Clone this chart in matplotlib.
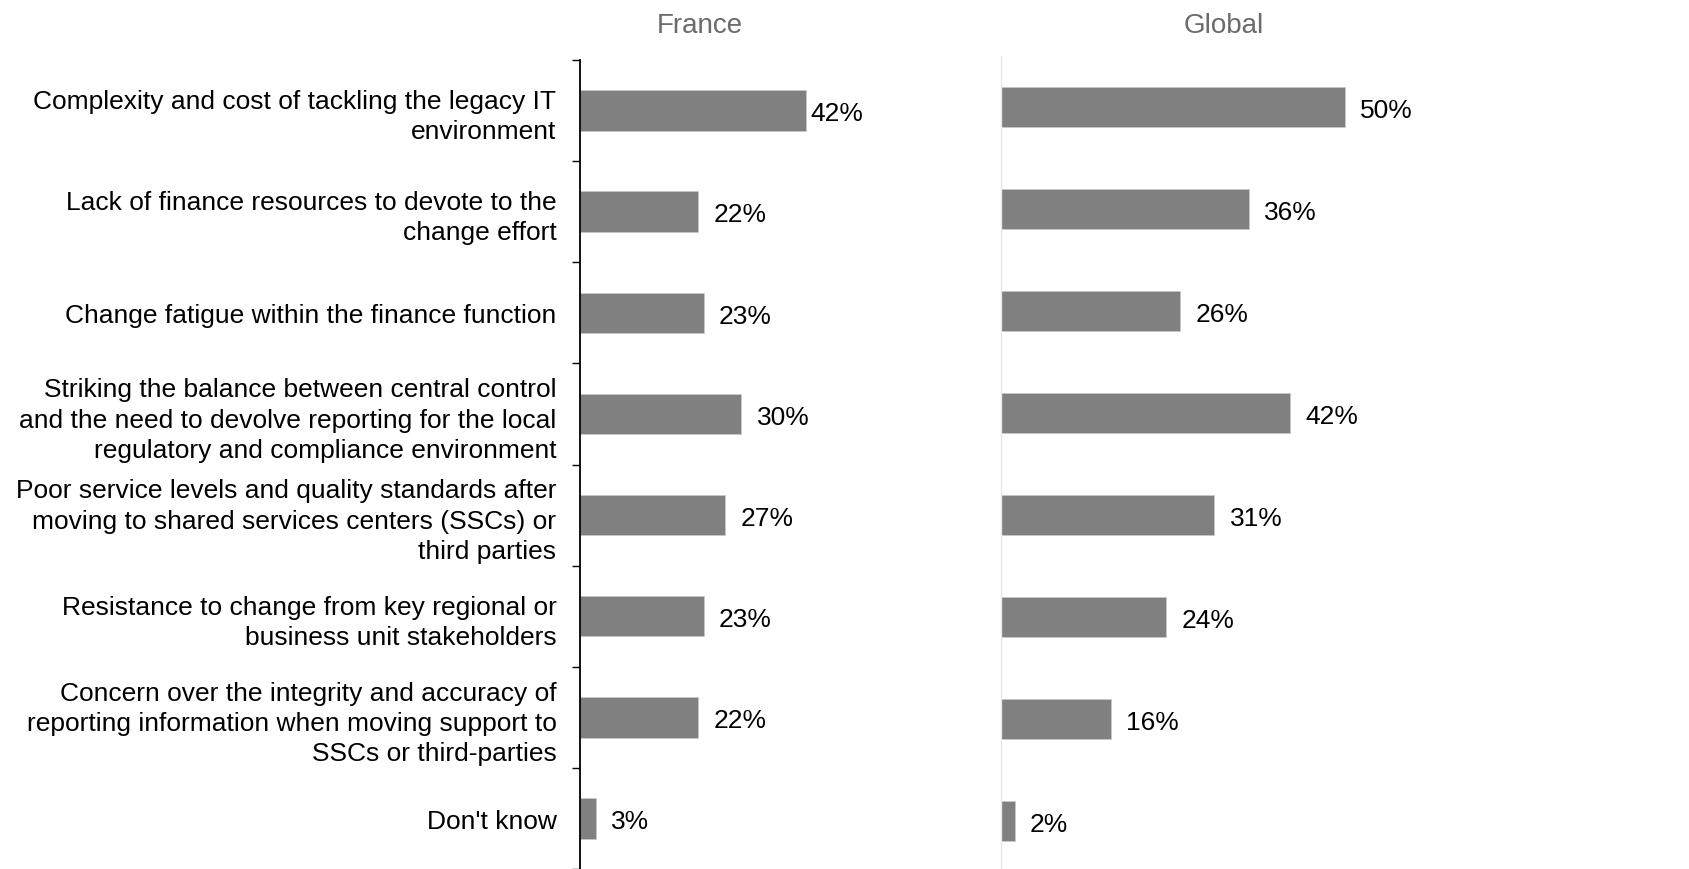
import numpy as np
import matplotlib
matplotlib.use('Agg')
import matplotlib.pyplot as plt

plt.rcParams['font.family'] = ['Liberation Sans', 'DejaVu Sans']

categories = [
    "Complexity and cost of tackling the legacy IT\nenvironment",
    "Lack of finance resources to devote to the\nchange effort",
    "Change fatigue within the finance function",
    "Striking the balance between central control\nand the need to devolve reporting for the local\nregulatory and compliance environment",
    "Poor service levels and quality standards after\nmoving to shared services centers (SSCs) or\nthird parties",
    "Resistance to change from key regional or\nbusiness unit stakeholders",
    "Concern over the integrity and accuracy of\nreporting information when moving support to\nSSCs or third-parties",
    "Don't know",
]
france = [42, 22, 23, 30, 27, 23, 22, 3]
global_ = [50, 36, 26, 42, 31, 24, 16, 2]

W, H = 1690, 870
fig = plt.figure(figsize=(W / 100, H / 100), dpi=100)


def px_axes(left, top, width, height):
    return fig.add_axes([left / W, (H - top - height) / H, width / W, height / H])


bar_color = '#808080'
y = np.arange(len(categories))

ax_fr = px_axes(580, 61, 380, 809)
ax_gl = px_axes(1001, 57, 600, 816)

# the longest France bar gets its label tucked in closer
label_pad = {(0, 0): 3}

for k, (ax, vals, xmax) in enumerate([(ax_fr, france, 380 / 5.38),
                                      (ax_gl, global_, 600 / 6.88)]):
    ax.barh(y, vals, height=0.4, color=bar_color, edgecolor='#c8c8c8', linewidth=0.6)
    for i, (yi, v) in enumerate(zip(y, vals)):
        pad = label_pad.get((k, i), 11)
        ax.annotate(f"{v}%", (v, yi), xytext=(pad, -2), textcoords='offset points',
                    ha='left', va='center', fontsize=19, color='black')
    ax.set_xlim(0, xmax)
    ax.set_ylim(len(categories) - 0.5, -0.5)
    ax.set_xticks([])
    for s in ['top', 'right', 'bottom']:
        ax.spines[s].set_visible(False)

# France panel: category labels and boundary ticks
ax_fr.spines['left'].set_color('black')
ax_fr.spines['left'].set_linewidth(1.3)
ax_fr.set_yticks(y)
ax_fr.set_yticklabels(categories, fontsize=19, linespacing=1.33)
ax_fr.tick_params(axis='y', which='major', length=0, pad=17)
ax_fr.set_yticks(np.arange(-0.5, len(categories)), minor=True)
ax_fr.tick_params(axis='y', which='minor', length=6, width=1.0, color='black')

# Global panel: faint axis line only
ax_gl.spines['left'].set_color('#e6e6e6')
ax_gl.spines['left'].set_linewidth(1.0)
ax_gl.set_yticks([])

fig.text(700 / W, 1 - 26 / H, "France", ha='center', va='center', fontsize=20, color='#6b6b6b')
fig.text(1224 / W, 1 - 26 / H, "Global", ha='center', va='center', fontsize=20, color='#6b6b6b')

fig.savefig('out.png', dpi=100, facecolor='white')
